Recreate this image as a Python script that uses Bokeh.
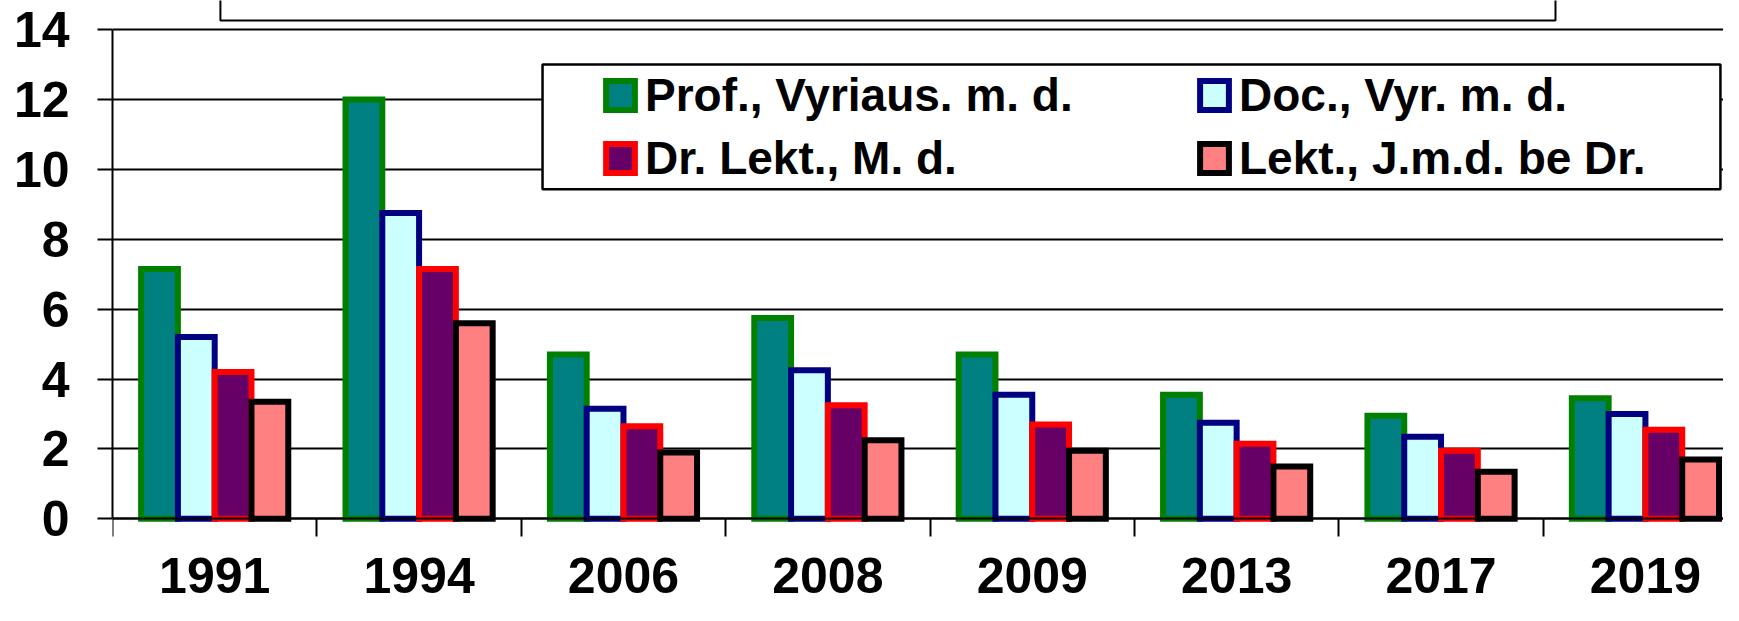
import numpy as np
from bokeh.plotting import figure
from bokeh.models import Range1d, FixedTicker, Legend, LegendItem
from bokeh.embed import file_html
from bokeh.resources import INLINE

# ---- data ----
years = ["1991", "1994", "2006", "2008", "2009", "2013", "2017", "2019"]
series_names = ["Prof., Vyriaus. m. d.", "Doc., Vyr. m. d.", "Dr. Lekt., M. d.", "Lekt., J.m.d. be Dr."]
prof = [7.15, 12.0, 4.7, 5.75, 4.7, 3.55, 2.95, 3.45]
doc = [5.2, 8.75, 3.15, 4.25, 3.55, 2.75, 2.35, 3.0]
dr_lekt = [4.2, 7.15, 2.65, 3.25, 2.7, 2.15, 1.95, 2.55]
lekt = [3.35, 5.6, 1.9, 2.25, 1.95, 1.5, 1.35, 1.7]
y_ticks = [0, 2, 4, 6, 8, 10, 12, 14]

# ---- styles ----
fills = ["#008080", "#CCFFFF", "#660066", "#FF8080"]
borders = ["#008000", "#000080", "#FF0000", "#000000"]
FONT = "Liberation Sans"

n = len(years)
centers = np.arange(n) + 0.5
bar_w = 0.18

p = figure(width=1723, height=605, output_backend="svg", toolbar_location=None,
           x_range=Range1d(0, 7.882), y_range=Range1d(-2.481, 14.834),
           min_border_left=112, min_border_right=0, min_border_top=0, min_border_bottom=0)
p.outline_line_color = None
p.background_fill_color = "white"
p.border_fill_color = "white"

# grid
p.xgrid.visible = False
p.ygrid.ticker = FixedTicker(ticks=y_ticks)
p.ygrid.grid_line_color = "black"
p.ygrid.grid_line_width = 2

# y axis
ya = p.yaxis[0]
ya.ticker = FixedTicker(ticks=y_ticks)
ya.bounds = (0, 14)
ya.axis_line_color = "black"
ya.axis_line_width = 2
ya.major_tick_out = 15
ya.major_tick_in = 0
ya.major_tick_line_width = 2
ya.minor_tick_line_color = None
ya.major_label_standoff = 28
ya.major_label_text_font = FONT
ya.major_label_text_font_style = "bold"
ya.major_label_text_font_size = "50px"
ya.major_label_text_color = "black"

# x axis
xa = p.xaxis[0]
xa.fixed_location = 0
xa.ticker = FixedTicker(ticks=list(centers), minor_ticks=list(range(n + 1)))
xa.major_label_overrides = {float(c): y for c, y in zip(centers, years)}
xa.axis_line_color = "black"
xa.axis_line_width = 2
xa.major_tick_out = 0
xa.major_tick_in = 0
xa.minor_tick_out = 18
xa.minor_tick_in = 0
xa.minor_tick_line_color = "black"
xa.minor_tick_line_width = 2
xa.major_label_standoff = 21
xa.major_label_text_font = FONT
xa.major_label_text_font_style = "bold"
xa.major_label_text_font_size = "50px"
xa.major_label_text_color = "black"

# title box (partly outside the picture) and legend frame
p.quad(left=[0.528], right=[7.06], bottom=[14.262], top=[15.5],
       fill_color="white", line_color="black", line_width=2)
p.quad(left=[2.104], right=[7.867], bottom=[9.43], top=[13.0],
       fill_color="white", line_color="black", line_width=2.5)

# bars
renderers = []
for i, vals in enumerate([prof, doc, dr_lekt, lekt]):
    off = (i - 1.5) * bar_w
    r = p.vbar(x=centers + off, top=vals, bottom=0, width=bar_w,
               fill_color=fills[i], line_color=borders[i], line_width=6,
               line_join="miter")
    renderers.append(r)

def make_legend(items, x, y):
    leg = Legend(items=items, location=(x, y), orientation="vertical")
    leg.margin = 0
    leg.padding = 0
    leg.spacing = 9
    leg.border_line_color = None
    leg.background_fill_alpha = 0
    leg.glyph_width = 36
    leg.glyph_height = 36
    leg.label_standoff = 7
    leg.label_text_font = FONT
    leg.label_text_font_style = "bold"
    leg.label_text_font_size = "46px"
    leg.label_text_color = "black"
    leg.label_height = 50
    return leg

leg1 = make_legend([LegendItem(label=series_names[0], renderers=[renderers[0]]),
                    LegendItem(label=series_names[2], renderers=[renderers[2]])], 490, 420)
leg2 = make_legend([LegendItem(label=series_names[1], renderers=[renderers[1]]),
                    LegendItem(label=series_names[3], renderers=[renderers[3]])], 1084, 420)
p.add_layout(leg1, "center")
p.add_layout(leg2, "center")

open("out.html", "w").write(file_html(p, INLINE))
